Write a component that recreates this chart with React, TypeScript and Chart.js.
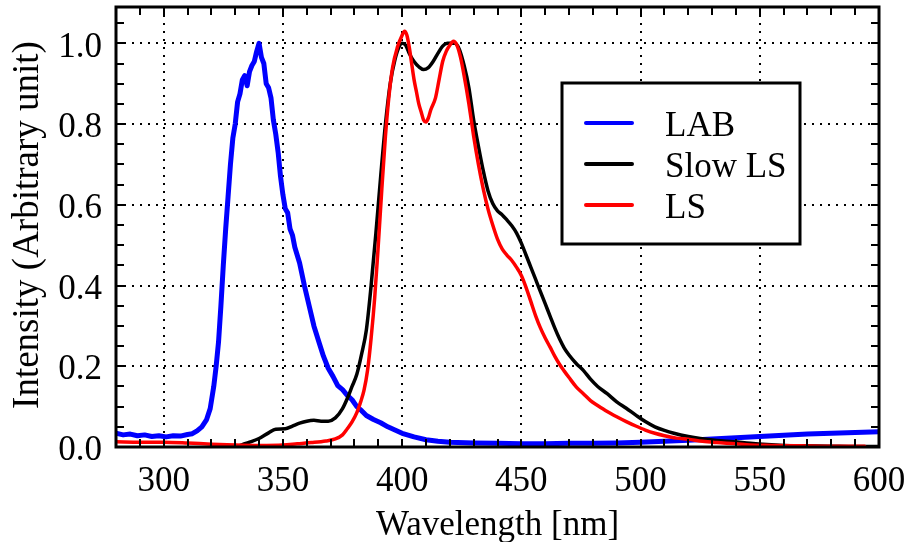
import React, { useEffect, useRef } from "react";
import { Chart, registerables } from "chart.js";

Chart.register(...registerables);

// ---------- data ----------
const labWavelength = [280, 283, 286, 289, 292, 295, 298, 301, 304, 307, 310, 312, 314, 316, 318, 319.5, 321, 322, 323, 324, 325, 326, 327, 328, 329, 330, 331, 332, 333, 334, 335, 336, 337, 338, 339, 340, 341, 342, 343, 344, 345, 346, 347, 348, 349, 350, 351, 352, 353, 354, 355, 357, 359, 361, 363, 365, 367, 369, 371, 373, 375, 377, 379, 381, 383, 385, 388, 391, 394, 397, 400, 405, 410, 415, 420, 430, 440, 450, 460, 470, 480, 490, 500, 510, 520, 530, 540, 550, 560, 570, 580, 590, 600];
const labIntensity = [0.034, 0.03, 0.032, 0.028, 0.03, 0.026, 0.028, 0.025, 0.028, 0.027, 0.031, 0.033, 0.04, 0.05, 0.068, 0.095, 0.15, 0.2, 0.26, 0.35, 0.45, 0.54, 0.62, 0.7, 0.765, 0.8, 0.855, 0.875, 0.91, 0.92, 0.895, 0.93, 0.945, 0.955, 0.98, 1.0, 0.965, 0.95, 0.9, 0.89, 0.865, 0.81, 0.775, 0.73, 0.67, 0.625, 0.59, 0.58, 0.54, 0.525, 0.495, 0.456, 0.4, 0.35, 0.3, 0.262, 0.225, 0.195, 0.175, 0.152, 0.142, 0.128, 0.117, 0.1, 0.09, 0.078, 0.068, 0.06, 0.05, 0.042, 0.034, 0.025, 0.018, 0.014, 0.012, 0.01, 0.009, 0.008, 0.008, 0.009, 0.009, 0.01, 0.012, 0.014, 0.017, 0.02, 0.023, 0.026, 0.029, 0.032, 0.034, 0.036, 0.038];

const slowWavelength = [330, 333, 336, 340, 344, 347, 351, 354, 357, 360, 363, 366, 369, 372, 375, 377, 379, 381, 383, 385, 387, 389, 391, 393, 395, 397, 399, 400, 401.5, 403, 405, 407, 409, 411, 413, 415, 417, 419, 421, 422, 424, 426, 428, 430, 432, 434, 436, 438, 440, 442, 444, 446, 448, 450, 452, 454, 456, 458, 460, 462, 464, 466, 468, 470, 473, 476, 479, 482, 486, 490, 494, 498, 502, 506, 510, 514, 520, 525, 532, 539, 546, 553, 560, 570, 580, 590, 600];
const slowIntensity = [0.0, 0.006, 0.012, 0.021, 0.035, 0.044, 0.045, 0.052, 0.059, 0.064, 0.066, 0.064, 0.064, 0.072, 0.095, 0.12, 0.15, 0.18, 0.23, 0.29, 0.4, 0.53, 0.67, 0.8, 0.9, 0.96, 0.995, 1.0, 0.995, 0.975, 0.955, 0.942, 0.935, 0.94, 0.955, 0.975, 0.993, 1.0, 1.0, 1.0, 0.985, 0.945, 0.89, 0.81, 0.745, 0.685, 0.635, 0.603, 0.585, 0.575, 0.562, 0.548, 0.53, 0.505, 0.475, 0.445, 0.415, 0.385, 0.355, 0.325, 0.295, 0.268, 0.245, 0.228, 0.207, 0.19, 0.168, 0.15, 0.132, 0.112, 0.096, 0.079, 0.063, 0.05, 0.041, 0.034, 0.026, 0.021, 0.016, 0.013, 0.009, 0.006, 0.004, 0.003, 0.002, 0.001, 0.001];

const lsWavelength = [280, 290, 300, 310, 320, 330, 340, 350, 356, 362, 368, 372, 375, 377, 379, 381, 382.5, 384, 385.5, 387, 388.5, 390, 391.5, 393, 394.5, 396, 398, 400, 401, 402, 403, 404, 405, 406, 407, 408, 409, 410, 411, 412, 414, 415.5, 417, 418.5, 420, 421.5, 423, 424.5, 426, 428, 430, 432, 434, 436, 438, 440, 442, 444, 446, 448, 450, 452, 454, 456, 458, 460, 462, 464, 466, 468, 470, 473, 476, 479, 482, 486, 490, 494, 498, 502, 506, 510, 515, 520, 526, 532, 540, 546, 555, 567, 580, 594];
const lsIntensity = [0.013, 0.012, 0.012, 0.01, 0.007, 0.005, 0.004, 0.005, 0.008, 0.011, 0.015, 0.02, 0.03, 0.045, 0.062, 0.085, 0.11, 0.14, 0.19, 0.27, 0.37, 0.5, 0.64, 0.77, 0.87, 0.94, 0.99, 1.02, 1.03, 1.02, 0.99, 0.95, 0.91, 0.88, 0.85, 0.83, 0.81, 0.805, 0.815, 0.835, 0.865, 0.91, 0.955, 0.98, 0.995, 1.005, 0.995, 0.965, 0.92, 0.85, 0.77, 0.7, 0.64, 0.59, 0.55, 0.515, 0.49, 0.475, 0.462, 0.445, 0.425, 0.395, 0.36, 0.325, 0.295, 0.27, 0.248, 0.225, 0.205, 0.188, 0.172, 0.149, 0.132, 0.115, 0.103, 0.088, 0.075, 0.063, 0.052, 0.042, 0.034, 0.028, 0.022, 0.019, 0.014, 0.011, 0.008, 0.005, 0.004, 0.003, 0.002, 0.002];

const seriesLabels = ["LAB", "Slow LS", "LS"];
const seriesColors = ["#0000ff", "#000000", "#ff0000"];
const xTickValues = [300, 350, 400, 450, 500, 550, 600];
const yTickValues = [0, 0.2, 0.4, 0.6, 0.8, 1.0];
const xTitle = "Wavelength [nm]";
const yTitle = "Intensity (Arbitrary unit)";

const X_MIN = 280;
const X_MAX = 600;
const Y_MIN = 0;
const Y_MAX = 1.09;
const X_MINOR = 10;
const Y_MINOR = 0.05;

const FONT = "'Liberation Serif', 'Times New Roman', serif";

const zip = (xs: number[], ys: number[]) => xs.map((x, i) => ({ x, y: ys[i] }));

const fixScale = (s: any) => {
  s.paddingLeft = 0;
  s.paddingRight = 0;
  s.paddingTop = 0;
  s.paddingBottom = 0;
};

const framePlugin = {
  id: "frameAndExtras",
  afterDraw(chart: any) {
    const { ctx, chartArea } = chart;
    const xs = chart.scales.x;
    const ys = chart.scales.y;
    const { left, right, top, bottom } = chartArea;
    ctx.save();
    // inward ticks
    ctx.strokeStyle = "#000";
    ctx.lineWidth = 2;
    const tl = 8;
    ctx.beginPath();
    for (let v = X_MIN; v <= X_MAX + 1e-6; v += X_MINOR) {
      const px = Math.round(xs.getPixelForValue(v));
      ctx.moveTo(px, bottom);
      ctx.lineTo(px, bottom - tl);
      ctx.moveTo(px, top);
      ctx.lineTo(px, top + tl);
    }
    for (let v = Y_MIN; v <= Y_MAX + 1e-6; v += Y_MINOR) {
      const py = Math.round(ys.getPixelForValue(v));
      ctx.moveTo(left, py);
      ctx.lineTo(left + tl, py);
      ctx.moveTo(right, py);
      ctx.lineTo(right - tl, py);
    }
    ctx.stroke();
    // frame
    ctx.lineWidth = 3;
    ctx.strokeRect(left, top, right - left, bottom - top);

    // axis titles
    ctx.fillStyle = "#000";
    ctx.font = `35px ${FONT}`;
    ctx.textAlign = "center";
    ctx.textBaseline = "middle";
    ctx.fillText(xTitle, (left + right) / 2, 526);
    ctx.save();
    ctx.translate(28, 225);
    ctx.rotate(-Math.PI / 2);
    ctx.font = `37px ${FONT}`;
    ctx.fillText(yTitle, 0, 0);
    ctx.restore();

    // legend
    const bx = 562, by = 83, bw = 238, bh = 161;
    ctx.fillStyle = "#fff";
    ctx.fillRect(bx, by, bw, bh);
    ctx.lineWidth = 3;
    ctx.strokeStyle = "#000";
    ctx.strokeRect(bx, by, bw, bh);
    ctx.font = `35px ${FONT}`;
    ctx.textAlign = "left";
    ctx.textBaseline = "alphabetic";
    chart.data.datasets.forEach((ds: any, i: number) => {
      const ly = by + 40 + i * 41;
      ctx.strokeStyle = ds.borderColor;
      ctx.lineWidth = 4;
      ctx.lineCap = "round";
      ctx.beginPath();
      ctx.moveTo(586, ly);
      ctx.lineTo(632, ly);
      ctx.stroke();
      ctx.fillStyle = "#000";
      ctx.fillText(ds.label, 665, ly + 13);
    });
    ctx.restore();
  },
};

export default function App() {
  const ref = useRef<HTMLCanvasElement>(null);
  useEffect(() => {
    if (!ref.current) return;
    const chart = new Chart(ref.current, {
      type: "line",
      data: {
        datasets: [
          { label: seriesLabels[0], data: zip(labWavelength, labIntensity), borderColor: seriesColors[0], borderWidth: 5, order: 2, cubicInterpolationMode: "default", tension: 0 },
          { label: seriesLabels[1], data: zip(slowWavelength, slowIntensity), borderColor: seriesColors[1], borderWidth: 3.5, order: 1 },
          { label: seriesLabels[2], data: zip(lsWavelength, lsIntensity), borderColor: seriesColors[2], borderWidth: 3.5, order: 0 },
        ],
      },
      options: {
        animation: false,
        responsive: false,
        devicePixelRatio: 1,
        layout: { padding: { top: 7, right: 29, left: 0, bottom: 0 } },
        elements: { point: { radius: 0 }, line: { cubicInterpolationMode: "monotone", borderJoinStyle: "round", borderCapStyle: "round" } },
        plugins: { legend: { display: false }, tooltip: { enabled: false } },
        scales: {
          x: {
            type: "linear",
            min: X_MIN,
            max: X_MAX,
            afterFit: (s: any) => { s.height = 95; fixScale(s); },
            afterBuildTicks: (s: any) => { s.ticks = xTickValues.map((v) => ({ value: v })); },
            grid: { color: "#000", lineWidth: 2, drawTicks: false },
            border: { display: false, dash: [2, 6] },
            ticks: { color: "#000", font: { family: FONT, size: 35 }, padding: 14, maxRotation: 0, autoSkip: false, callback: (v: any) => String(v) },
          },
          y: {
            type: "linear",
            min: Y_MIN,
            max: Y_MAX,
            afterFit: (s: any) => { s.width = 116; fixScale(s); },
            afterBuildTicks: (s: any) => { s.ticks = yTickValues.map((v) => ({ value: v })); },
            grid: { color: "#000", lineWidth: 2, drawTicks: false },
            border: { display: false, dash: [2, 6] },
            ticks: { color: "#000", font: { family: FONT, size: 35 }, padding: 14, labelOffset: 4, autoSkip: false, callback: (v: any) => Number(v).toFixed(1) },
          },
        },
      },
      plugins: [framePlugin],
    });
    return () => chart.destroy();
  }, []);
  return (
    <div style={{ position: "fixed", left: 0, top: 0, width: 908, height: 542, background: "#fff" }}>
      <canvas ref={ref} width={908} height={542} />
    </div>
  );
}
